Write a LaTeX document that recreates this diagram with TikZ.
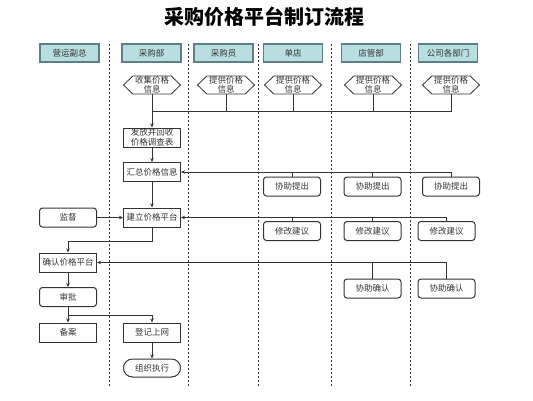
\documentclass[tikz,border=0pt]{standalone}
\usepackage{fontspec}
\setmainfont{Noto Sans CJK SC}
\usetikzlibrary{arrows.meta,shapes.symbols}
\definecolor{hdrfill}{HTML}{B9DEE1}
\definecolor{hdrline}{HTML}{5F7F86}
\definecolor{ink}{HTML}{333333}
\tikzset{
  hdr/.style={draw=hdrline,line width=1.2pt,fill=hdrfill,minimum width=59pt,minimum height=18pt,inner sep=0pt,text=ink,font=\fontsize{8.5}{10}\selectfont},
  box/.style={draw=ink,line width=1pt,minimum width=57pt,minimum height=19pt,inner sep=0pt,align=center,text=ink,font=\fontsize{8.5}{9.5}\selectfont},
  rbox/.style={box,rounded corners=3pt},
  hexbox/.style={draw=ink,line width=0.8pt,signal,signal to=east and west,signal pointer angle=88,minimum width=57pt,minimum height=18pt,inner sep=0pt,align=center,text=ink,font=\fontsize{8.5}{9}\selectfont},
  lane/.style={dashed,dash pattern=on 2pt off 2pt,line width=0.8pt,draw=ink},
  conn/.style={draw=ink,line width=0.9pt},
  arr/.style={conn,-{Stealth[length=4pt,width=3.5pt]}}
}
\begin{document}
\begin{tikzpicture}[x=1pt,y=-1pt]
\useasboundingbox (0,0) rectangle (533,400);
\node[font=\fontsize{20}{22}\selectfont\bfseries] (title) at (264,17) {采购价格平台制订流程};
% lanes
\foreach \x/\n in {109/l1,188/l2,258/l3,331/l4,410/l5}{
  \coordinate (\n a) at (\x,44);
  \coordinate (\n b) at (\x,386);
  \draw[lane] (\n a) -- (\n b);
}
% headers
\node[hdr] (hA) at (69.5,53) {营运副总};
\node[hdr] (hB) at (151.5,53) {采购部};
\node[hdr] (hC) at (223.5,53) {采购员};
\node[hdr] (hD) at (293,53) {单店};
\node[hdr] (hE) at (371,53) {店管部};
\node[hdr] (hF) at (448,53) {公司各部门};
% hexes
\node[hexbox] (x1) at (152,85) {收集价格\\信息};
\node[hexbox] (x2) at (226,85) {提供价格\\信息};
\node[hexbox] (x3) at (293,85) {提供价格\\信息};
\node[hexbox] (x4) at (373,85) {提供价格\\信息};
\node[hexbox] (x5) at (451,85) {提供价格\\信息};
\coordinate (bus) at (0,111);
% boxes
\node[box] (fafang) at (152,137.5) {发放并回收\\价格调查表};
\node[box] (huizong) at (152,172) {汇总价格信息};
\node[rbox] (xz1) at (292,186.5) {协助提出};
\node[rbox] (xz2) at (372.5,186.5) {协助提出};
\node[rbox] (xz3) at (451,186.5) {协助提出};
\node[box] (jianli) at (152,217.5) {建立价格平台};
\node[rbox] (jiandu) at (68,217.5) {监督};
\node[rbox] (xg1) at (292,231) {修改建议};
\node[rbox] (xg2) at (372.5,231) {修改建议};
\node[rbox] (xg3) at (446.5,231) {修改建议};
\node[box] (queren) at (68,262.5) {确认价格平台};
\node[rbox] (qr1) at (372.5,288.5) {协助确认};
\node[rbox] (qr2) at (446.5,288.5) {协助确认};
\node[rbox] (shenpi) at (68,297) {审批};
\node[box] (beian) at (68,332.5) {备案};
\node[box] (dengji) at (152,332.5) {登记上网};
\node[box,rounded corners=9pt,minimum height=18pt] (zuzhi) at (152,368) {组织执行};
% connectors
\draw[conn] (x5.south) |- (x1.south|-bus);
\foreach \n in {x2,x3,x4}{\draw[conn] (\n.south) -- (\n.south|-bus);}
\draw[arr] (x1.south) -- (fafang.north);
\draw[arr] (fafang.south) -- (huizong.north);
\draw[arr] (xz3.north) |- (huizong.east);
\foreach \n in {xz1,xz2}{\draw[conn] (\n.north) -- (\n.north|-huizong.east);}
\draw[arr] (huizong.south) -- (jianli.north);
\draw[arr] (jiandu.east) -- (jianli.west);
\draw[arr] (xg3.north) |- (jianli.east);
\foreach \n in {xg1,xg2}{\draw[conn] (\n.north) -- (\n.north|-jianli.east);}
\draw[arr] (jianli.south) -- ++(0,14) -| (queren.north);
\draw[arr] (qr2.north) |- (queren.east);
\draw[conn] (qr1.north) -- (qr1.north|-queren.east);
\draw[arr] (queren.south) -- (shenpi.north);
\draw[arr] (shenpi.south) -- (beian.north);
\draw[arr] (shenpi.south) -- ++(0,8) -| (dengji.north);
\draw[arr] (dengji.south) -- (zuzhi.north);
\end{tikzpicture}
\end{document}
